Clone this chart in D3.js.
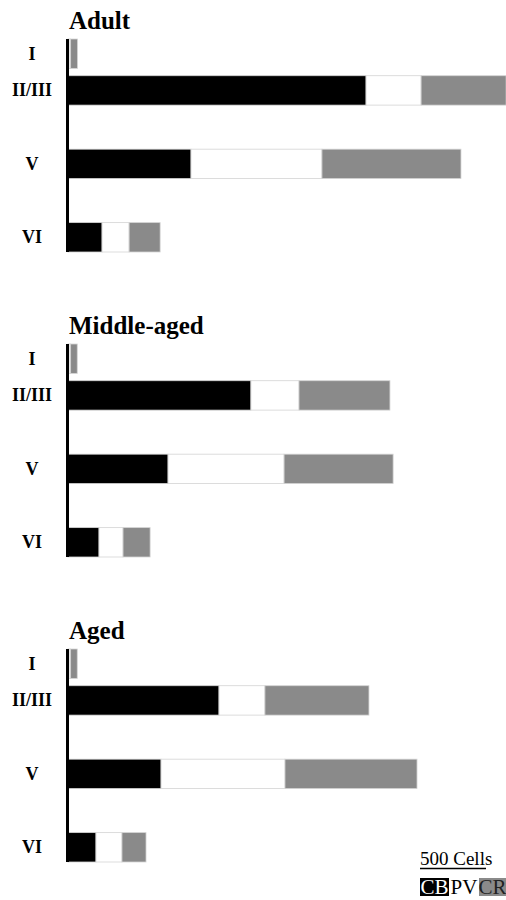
<!DOCTYPE html>
<html>
<head>
<meta charset="utf-8">
<script src="https://cdn.jsdelivr.net/npm/d3@7"></script>
<style>
  body { margin: 0; background: #fff; }
  svg { display: block; font-family: 'Liberation Serif', 'Times New Roman', serif; }
</style>
</head>
<body>
<div id="chart"></div>
<script>
// cell counts per cortical layer
const ages = ['Adult', 'Middle-aged', 'Aged'];
const layers = ['I', 'II/III', 'V', 'VI'];
const types = ['CB', 'PV', 'CR'];
const cbCells = [[8, 2258, 932, 258], [8, 1386, 758, 235], [8, 1144, 705, 212]];
const pvCells = [[12, 417, 992, 205], [12, 364, 879, 182], [12, 348, 939, 197]];
const crCells = [[52, 644, 1053, 235], [50, 689, 826, 205], [50, 788, 1000, 182]];
const scaleCells = 500;

const width = 506, height = 900;
const panelStep = 305;
const x0 = 68;

const colors = d3.scaleOrdinal().domain(types).range(['#000', '#fff', '#8a8a8a']);
const textColors = d3.scaleOrdinal().domain(types).range(['#fff', '#000', '#222']);

const x = d3.scaleLinear().domain([0, scaleCells]).range([x0, x0 + 66]);

// layer IV and a spacer slot keep the depth gaps between II/III, V and VI
const slots = ['I', 'II/III', 'gapA', 'V', 'gapB', 'VI'];
const y = d3.scaleBand().domain(slots).range([39, 252]).paddingInner(0.2).paddingOuter(0);

const svg = d3.select('#chart').append('svg')
  .attr('width', width).attr('height', height);

svg.append('rect').attr('width', width).attr('height', height).attr('fill', '#fff');

const stack = d3.stack().keys(types);

ages.forEach((age, i) => {
  const rows = layers.map((layer, j) => ({
    layer: layer,
    CB: cbCells[i][j],
    PV: pvCells[i][j],
    CR: crCells[i][j]
  }));
  const series = stack(rows);

  const g = svg.append('g').attr('transform', `translate(0,${i * panelStep})`);

  g.append('text')
    .attr('x', 69).attr('y', 29)
    .attr('font-size', 25).attr('font-weight', 'bold')
    .text(age);

  g.selectAll('.series')
    .data(series)
    .join('g')
    .attr('fill', d => colors(d.key))
    .selectAll('rect')
    .data(d => d)
    .join('rect')
    .attr('x', d => x(d[0]))
    .attr('y', d => y(d.data.layer))
    .attr('width', d => x(d[1]) - x(d[0]))
    .attr('height', y.bandwidth())
    .attr('stroke', '#d4d4d4')
    .attr('stroke-width', 0.8);

  g.append('line')
    .attr('x1', x0 - 0.5).attr('x2', x0 - 0.5)
    .attr('y1', y.range()[0]).attr('y2', y.range()[1])
    .attr('stroke', '#000').attr('stroke-width', 3);

  g.selectAll('.layer-label')
    .data(layers)
    .join('text')
    .attr('x', 32)
    .attr('y', d => y(d) + y.bandwidth() / 2)
    .attr('text-anchor', 'middle')
    .attr('dominant-baseline', 'central')
    .attr('font-size', 18).attr('font-weight', 'bold')
    .text(d => d);
});

// scale bar + key
const legendX = 420;
const barLen = x(scaleCells) - x(0);
const legend = svg.append('g');

legend.append('text')
  .attr('x', legendX).attr('y', 865)
  .attr('font-size', 19)
  .text(`${scaleCells} Cells`);

legend.append('line')
  .attr('x1', legendX).attr('x2', legendX + barLen)
  .attr('y1', 868.5).attr('y2', 868.5)
  .attr('stroke', '#000').attr('stroke-width', 1.5);

const keyW = [29, 30, 27];
let kx = legendX;
types.forEach((t, k) => {
  legend.append('rect')
    .attr('x', kx).attr('y', 878)
    .attr('width', keyW[k]).attr('height', 18)
    .attr('fill', colors(t));
  legend.append('text')
    .attr('x', kx + keyW[k] / 2).attr('y', 894)
    .attr('text-anchor', 'middle')
    .attr('font-size', 21)
    .attr('fill', textColors(t))
    .text(t);
  kx += keyW[k];
});
</script>
</body>
</html>
